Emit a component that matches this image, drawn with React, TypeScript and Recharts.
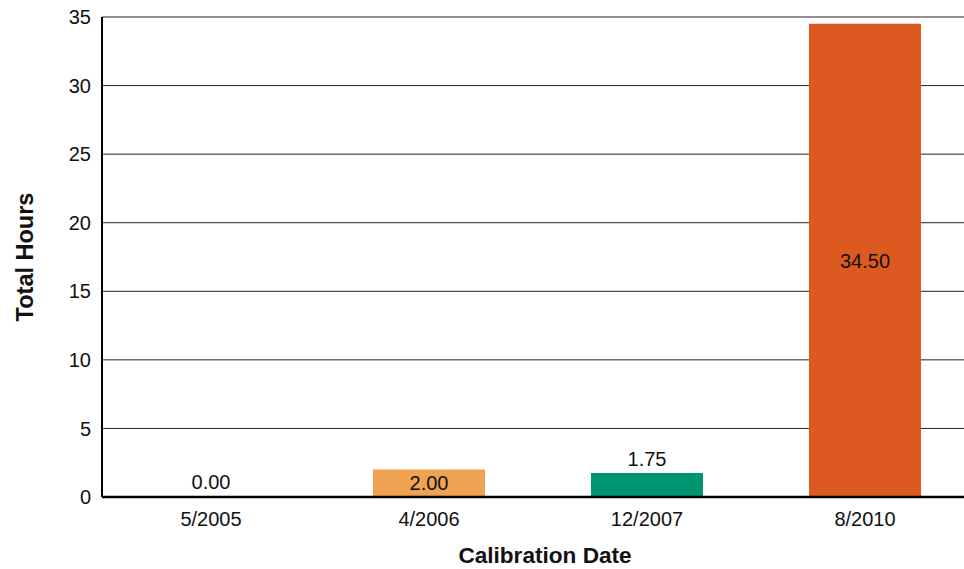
import React from 'react';
import { BarChart, Bar, XAxis, YAxis, CartesianGrid, Cell, LabelList } from 'recharts';

const dates = ['5/2005', '4/2006', '12/2007', '8/2010'];
const hours = [0, 2.0, 1.75, 34.5];
const barColors = ['transparent', '#EFA252', '#009570', '#DC5920'];
const yTicks = [0, 5, 10, 15, 20, 25, 30, 35];

const chartData = dates.map((d, i) => ({ date: d, hours: hours[i] }));

const FONT = '"Liberation Sans", Arial, Helvetica, sans-serif';

// small bars get label above, larger ones centered inside
const renderValue = (props: any) => {
  const { x, y, width, height, value } = props;
  const cx = x + width / 2;
  const inside = value >= 2;
  const cy = inside ? y + height / 2 : y - 14;
  return (
    <text x={cx} y={cy} dy="0.355em" textAnchor="middle" fill="#111" fontSize={20} fontFamily={FONT}>
      {Number(value).toFixed(2)}
    </text>
  );
};

export default function App() {
  return (
    <div style={{ position: 'fixed', left: 0, top: 0, width: 964, height: 569, overflow: 'hidden', background: '#fff' }}>
      <BarChart
        width={974}
        height={569}
        data={chartData}
        margin={{ top: 17, right: 0, left: 0, bottom: 0 }}
        barSize={112}
      >
        <CartesianGrid vertical={false} stroke="#222" strokeWidth={1} />
        <XAxis
          dataKey="date"
          height={72}
          tickLine={false}
          tickSize={6}
          tickMargin={9}
          axisLine={{ stroke: '#000', strokeWidth: 2.5 }}
          tick={{ fill: '#111', fontSize: 20, fontFamily: FONT }}
          label={{
            value: 'Calibration Date',
            position: 'insideBottom',
            offset: 6,
            dx: 7,
            style: { fontSize: 22.6, fontWeight: 'bold', fill: '#111', fontFamily: FONT },
          }}
        />
        <YAxis
          width={102}
          domain={[0, 35]}
          ticks={yTicks}
          interval={0}
          tickLine={false}
          tickSize={6}
          tickMargin={5}
          axisLine={{ stroke: '#000', strokeWidth: 2 }}
          tick={{ fill: '#111', fontSize: 20, fontFamily: FONT }}
          label={{
            value: 'Total Hours',
            angle: -90,
            position: 'insideLeft',
            offset: 25,
            style: { fontSize: 23.5, fontWeight: 'bold', fill: '#111', fontFamily: FONT, textAnchor: 'middle' },
          }}
        />
        <Bar dataKey="hours" minPointSize={1} isAnimationActive={false}>
          {chartData.map((_, i) => (
            <Cell key={i} fill={barColors[i]} />
          ))}
          <LabelList dataKey="hours" content={renderValue} />
        </Bar>
      </BarChart>
    </div>
  );
}
